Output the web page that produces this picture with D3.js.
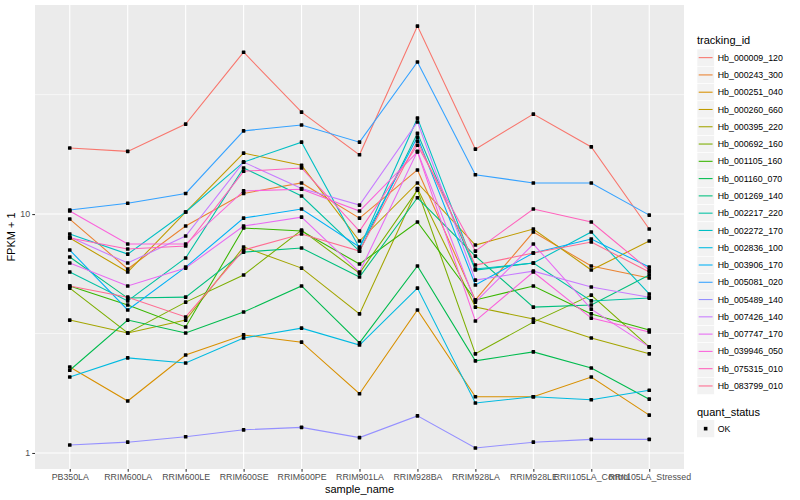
<!DOCTYPE html>
<html><head><meta charset="utf-8">
<script src="https://cdn.jsdelivr.net/npm/d3@7"></script>
<style>body{margin:0;background:#fff}svg{display:block;font-family:"Liberation Sans",Arial,Helvetica,sans-serif}</style>
</head><body><svg id="c" width="800" height="500"></svg>
<script>
const categories = ["PB350LA","RRIM600LA","RRIM600LE","RRIM600SE","RRIM600PE","RRIM901LA","RRIM928BA","RRIM928LA","RRIM928LE","RRII105LA_Control","RRII105LA_Stressed"];
const trackingIds = ["Hb_000009_120","Hb_000243_300","Hb_000251_040","Hb_000260_660","Hb_000395_220","Hb_000692_160","Hb_001105_160","Hb_001160_070","Hb_001269_140","Hb_002217_220","Hb_002272_170","Hb_002836_100","Hb_003906_170","Hb_005081_020","Hb_005489_140","Hb_007426_140","Hb_007747_170","Hb_039946_050","Hb_075315_010","Hb_083799_010"];
const colors = ["#F8766D","#EA8331","#D89000","#C09B00","#A3A500","#7CAE00","#39B600","#00BB4E","#00BF7D","#00C1A3","#00BFC4","#00BAE0","#00B0F6","#35A2FF","#9590FF","#C77CFF","#E76BF3","#FA62DB","#FF62BC","#FF6C91"];
// FPKM + 1 per series (order of trackingIds), one value per category
const s000009_120 = [18.9,18.3,23.8,47.6,26.7,17.7,61.2,18.7,26.2,19.1,8.66];
const s000243_300 = [9.53,5.89,8.91,12.2,13.5,9.62,15.3,4.37,8.41,6.06,5.40];
const s000251_040 = [2.29,1.65,2.57,3.12,2.91,1.77,3.97,1.72,1.72,2.08,1.44];
const s000260_660 = [7.94,5.72,10.2,18.0,16.0,7.71,13.5,7.42,8.66,5.83,7.71];
const s000395_220 = [3.60,3.18,3.60,7.28,5.94,3.82,12.8,4.08,3.64,3.03,2.60];
const s000692_160 = [4.90,3.18,4.28,5.56,8.57,5.66,12.6,2.60,3.53,4.58,2.78];
const s001105_160 = [5.00,4.16,3.37,8.74,8.49,6.18,9.26,4.37,5.00,3.82,3.27];
const s001160_070 = [2.22,3.60,3.18,3.89,5.00,2.89,6.06,2.43,2.65,2.27,1.68];
const s001269_140 = [6.61,4.45,4.49,6.93,7.21,5.45,11.7,6.67,4.08,4.16,5.56];
const s002217_220 = [5.72,4.33,6.55,15.6,11.9,7.00,21.8,5.83,6.24,4.33,4.45];
const s002272_170 = [8.25,6.80,10.2,16.5,20.0,7.21,25.2,5.89,6.24,8.41,4.63];
const s002836_100 = [2.08,2.50,2.38,3.03,3.33,2.83,4.90,1.62,1.72,1.67,1.83];
const s003906_170 = [7.07,3.97,6.00,9.62,10.5,7.28,21.0,5.05,6.87,7.86,6.00];
const s005081_020 = [10.4,11.1,12.2,22.3,23.6,20.0,43.3,14.6,13.5,13.5,9.90];
const s005489_140 = [1.08,1.11,1.17,1.25,1.28,1.16,1.43,1.05,1.11,1.14,1.14];
const s007426_140 = [8.01,6.24,8.09,16.5,12.8,10.9,24.3,5.29,5.77,4.95,4.49];
const s007747_170 = [6.24,5.00,5.94,8.91,9.71,5.72,18.3,4.28,7.49,4.00,2.78];
const s039946_050 = [10.3,7.49,7.49,12.5,12.7,10.3,18.2,3.57,5.72,3.67,3.21];
const s075315_010 = [7.94,7.14,7.35,15.1,15.6,8.49,19.4,7.00,10.5,9.26,5.83];
const s083799_010 = [5.00,4.49,3.71,7.07,8.25,7.00,20.2,6.12,6.87,7.64,5.72];
const seriesValues = [s000009_120,s000243_300,s000251_040,s000260_660,s000395_220,s000692_160,s001105_160,s001160_070,s001269_140,s002217_220,s002272_170,s002836_100,s003906_170,s005081_020,s005489_140,s007426_140,s007747_170,s039946_050,s075315_010,s083799_010];
const yMajorTicks = [1, 10];
const yMinorTicks = [Math.sqrt(10), Math.sqrt(1000)];
const yTickLabels = ["1", "10"];
const quantStatus = ["OK"];

const svg = d3.select("#c");
const L = 35, R = 684, T = 5, B = 469;
const x = d3.scalePoint().domain(categories).range([L, R]).padding(0.6);
const y = d3.scaleLog().domain([0.857, 75.0]).range([B, T]);

svg.append("rect").attr("x", L).attr("y", T).attr("width", R - L).attr("height", B - T).attr("fill", "#EBEBEB");
const g = svg.append("g");
g.selectAll(".ymin").data(yMinorTicks).join("line")
  .attr("x1", L).attr("x2", R).attr("y1", d => y(d)).attr("y2", d => y(d))
  .attr("stroke", "#fff").attr("stroke-width", 0.55);
g.selectAll(".ymaj").data(yMajorTicks).join("line")
  .attr("x1", L).attr("x2", R).attr("y1", d => y(d)).attr("y2", d => y(d))
  .attr("stroke", "#fff").attr("stroke-width", 1.1);
g.selectAll(".xmaj").data(categories).join("line")
  .attr("x1", d => x(d)).attr("x2", d => x(d)).attr("y1", T).attr("y2", B)
  .attr("stroke", "#fff").attr("stroke-width", 1.1);

const series = trackingIds.map((id, i) => ({id, color: colors[i], values: seriesValues[i].map((v, j) => ({c: categories[j], v}))}));
const line = d3.line().x(d => x(d.c)).y(d => y(d.v));
svg.append("g").selectAll("path").data(series).join("path")
  .attr("d", d => line(d.values)).attr("fill", "none").attr("stroke", d => d.color).attr("stroke-width", 1.07);
const pts = series.flatMap(s => s.values);
svg.append("g").selectAll("rect").data(pts).join("rect")
  .attr("x", d => x(d.c) - 1.8).attr("y", d => y(d.v) - 1.8).attr("width", 3.6).attr("height", 3.6).attr("rx", 0.6).attr("fill", "#000");

// axes
const yAxis = d3.axisLeft(y).tickValues(yMajorTicks).tickFormat((d, i) => yTickLabels[i]).tickSize(2.75).tickPadding(2.2);
const ya = svg.append("g").attr("transform", `translate(${L},0)`).call(yAxis);
const xAxis = d3.axisBottom(x).tickSize(2.75).tickPadding(2.2);
const xa = svg.append("g").attr("transform", `translate(0,${B})`).call(xAxis);
[ya, xa].forEach(a => {
  a.select(".domain").remove();
  a.selectAll(".tick line").attr("stroke", "#333").attr("stroke-width", 1.07);
  a.selectAll(".tick text").attr("fill", "#4D4D4D").attr("font-size", 8.8).attr("font-family", "Liberation Sans, Arial, sans-serif");
});
svg.append("text").attr("x", (L + R) / 2).attr("y", 493).attr("text-anchor", "middle").attr("font-size", 11).attr("fill", "#000").text("sample_name");
svg.append("text").attr("transform", `translate(15,${(T + B) / 2}) rotate(-90)`).attr("text-anchor", "middle").attr("font-size", 11).attr("fill", "#000").text("FPKM + 1");

// legend
const lg = svg.append("g");
const lx = 697, ly0 = 49, kh = 17.28;
lg.append("text").attr("x", lx).attr("y", 44).attr("font-size", 11).attr("fill", "#000").text("tracking_id");
const items = lg.selectAll(".it").data(series).join("g").attr("transform", (d, i) => `translate(${lx},${ly0 + i * kh})`);
items.append("rect").attr("width", kh).attr("height", kh).attr("fill", "#F2F2F2").attr("stroke", "#fff").attr("stroke-width", 0.6);
items.append("line").attr("x1", 1.7).attr("x2", kh - 1.7).attr("y1", kh / 2).attr("y2", kh / 2).attr("stroke", d => d.color).attr("stroke-width", 1.07);
items.append("text").attr("x", kh + 3.5).attr("y", kh / 2).attr("dy", "0.35em").attr("font-size", 8.8).attr("fill", "#000").text(d => d.id);
lg.append("text").attr("x", lx).attr("y", 416).attr("font-size", 11).attr("fill", "#000").text("quant_status");
const q = lg.selectAll(".q").data(quantStatus).join("g").attr("transform", (d, i) => `translate(${lx},${420 + i * kh})`);
q.append("rect").attr("width", kh).attr("height", kh).attr("fill", "#F2F2F2");
q.append("rect").attr("x", kh / 2 - 1.8).attr("y", kh / 2 - 1.8).attr("width", 3.6).attr("height", 3.6).attr("fill", "#000");
q.append("text").attr("x", kh + 3.5).attr("y", kh / 2).attr("dy", "0.35em").attr("font-size", 8.8).attr("fill", "#000").text(d => d);
</script></body></html>
